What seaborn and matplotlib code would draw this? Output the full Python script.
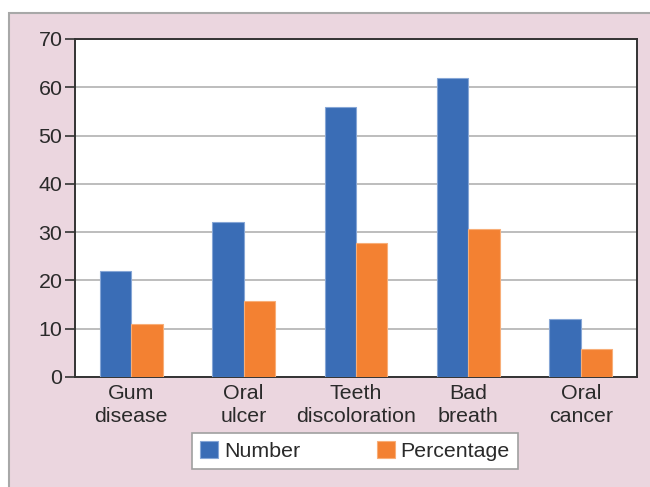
import matplotlib
matplotlib.use("Agg")
import matplotlib.pyplot as plt
from matplotlib.patches import Rectangle, Patch
import seaborn as sns
import pandas as pd

# Oral health problems reported by respondents
conditions = ["Gum\ndisease", "Oral\nulcer", "Teeth\ndiscoloration", "Bad\nbreath", "Oral\ncancer"]
number = [22, 32, 56, 62, 12]
percentage = [10.9, 15.8, 27.7, 30.7, 5.9]
series = ["Number", "Percentage"]
y_ticks = [0, 10, 20, 30, 40, 50, 60, 70]

colors = {"Number": "#3a6db6", "Percentage": "#f38132"}
edge_colors = {"Number": "#86a6d6", "Percentage": "#f8ae78"}
pink = "#ebd6df"
text_color = "#2a2a2a"
font_size = 15.4

df = pd.DataFrame({
    "condition": conditions * 2,
    "value": number + percentage,
    "measure": [series[0]] * len(conditions) + [series[1]] * len(conditions),
})

sns.set_theme(style="white")
plt.rcParams["font.family"] = ["Liberation Sans", "DejaVu Sans"]

fig = plt.figure(figsize=(6.5, 4.87), dpi=100, facecolor="white")

# Pink framed panel behind the chart
panel = Rectangle((9 / 650, -0.01), 1.0, 1 - 13 / 487 + 0.01,
                  transform=fig.transFigure, facecolor=pink,
                  edgecolor="#a8a8a8", linewidth=1.5, zorder=-10)
fig.patches.append(panel)

ax = fig.add_axes([75 / 650, 1 - 377 / 487, (637 - 75) / 650, (377 - 39) / 487])
ax.set_zorder(5)
ax.set_facecolor("white")

sns.barplot(data=df, x="condition", y="value", hue="measure", hue_order=series,
            palette=colors, width=0.56, saturation=1, ax=ax, linewidth=0)

for container, name in zip(ax.containers, series):
    for bar in container:
        bar.set_edgecolor(edge_colors[name])
        bar.set_linewidth(0.8)
        bar.set_zorder(3)

ax.set_ylim(0, 70)
ax.set_xlim(-0.5, len(conditions) - 0.5)
ax.set_yticks(y_ticks)
ax.yaxis.grid(True, color="#bdbdbd", linewidth=1.4, zorder=0)
ax.set_axisbelow(True)
ax.set_xlabel("")
ax.set_ylabel("")

for side in ["left", "bottom", "right", "top"]:
    ax.spines[side].set_visible(True)
    ax.spines[side].set_color("#333333")
    ax.spines[side].set_linewidth(1.4)

ax.tick_params(axis="y", which="major", direction="out", length=7, width=1.2,
               color="#333333", labelsize=font_size, labelcolor=text_color, pad=2, left=True)
ax.tick_params(axis="x", length=0, labelsize=font_size, labelcolor=text_color, pad=5)
for lbl in ax.get_xticklabels():
    lbl.set_linespacing(1.27)

if ax.legend_ is not None:
    ax.legend_.remove()

handles = [Patch(facecolor=colors[s], edgecolor=edge_colors[s], linewidth=0.8, label=s)
           for s in series]
leg = fig.legend(handles=handles, loc="center", bbox_to_anchor=(355 / 650, 1 - 451 / 487),
                 ncol=2, frameon=True, fancybox=False, fontsize=font_size, framealpha=1,
                 handlelength=0.85, handleheight=0.85, handletextpad=0.25,
                 columnspacing=3.6, borderpad=0.38, labelcolor=text_color)
leg.get_frame().set_edgecolor("#a0a0a0")
leg.get_frame().set_linewidth(1.2)
leg.get_frame().set_facecolor("white")
leg.set_zorder(6)

fig.savefig("out.png", dpi=100, facecolor=fig.get_facecolor())
